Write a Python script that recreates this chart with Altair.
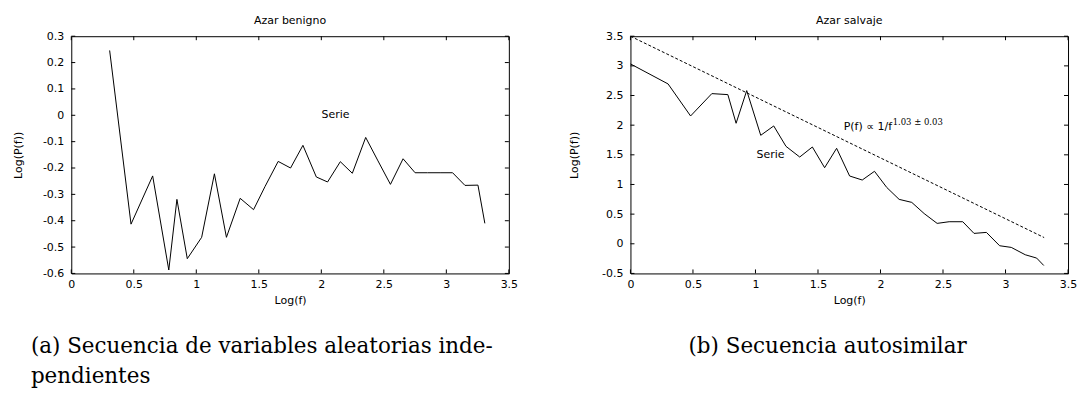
import altair as alt
import pandas as pd

# ---- tick values ----
x_ticks = [0, 0.5, 1, 1.5, 2, 2.5, 3, 3.5]
a_yticks = [-0.6, -0.5, -0.4, -0.3, -0.2, -0.1, 0, 0.1, 0.2, 0.3]
b_yticks = [-0.5, 0, 0.5, 1, 1.5, 2, 2.5, 3, 3.5]

# ---- panel (a): Azar benigno ----
a_x = [0.307, 0.478, 0.651, 0.780, 0.845, 0.928, 1.043, 1.145, 1.241, 1.351,
       1.458, 1.55, 1.655, 1.754, 1.853, 1.960, 2.050, 2.152, 2.248, 2.355,
       2.45, 2.553, 2.654, 2.750, 2.85, 2.95, 3.050, 3.149, 3.253, 3.308]
a_y = [0.246, -0.413, -0.230, -0.587, -0.319, -0.544, -0.463, -0.222, -0.463, -0.315,
       -0.358, -0.27, -0.175, -0.200, -0.114, -0.234, -0.253, -0.176, -0.220, -0.084,
       -0.17, -0.262, -0.165, -0.218, -0.218, -0.218, -0.218, -0.266, -0.265, -0.410]

# ---- panel (b): Azar salvaje ----
b_x = [0.0, 0.301, 0.481, 0.651, 0.779, 0.845, 0.930, 1.042, 1.146, 1.244,
       1.354, 1.455, 1.553, 1.649, 1.753, 1.854, 1.952, 2.050, 2.149, 2.250,
       2.349, 2.453, 2.549, 2.658, 2.748, 2.847, 2.953, 3.046, 3.158, 3.249, 3.306]
b_y = [3.033, 2.695, 2.155, 2.532, 2.515, 2.032, 2.583, 1.829, 1.987, 1.643,
       1.463, 1.632, 1.283, 1.610, 1.143, 1.075, 1.222, 0.950, 0.749, 0.698,
       0.510, 0.344, 0.372, 0.372, 0.175, 0.192, -0.033, -0.061, -0.185, -0.241, -0.366]
fit_x = [0.0, 3.309]
fit_y = [3.5, 0.105]

# ---- texts ----
a_title = "Azar benigno"
b_title = "Azar salvaje"
x_title = "Log(f)"
y_title = "Log(P(f))"
a_caption = "(a) Secuencia de variables aleatorias inde-\npendientes"
b_caption = "(b) Secuencia autosimilar"
serie_label = "Serie"
a_serie_pos = [2.113, 0.0]
b_serie_pos = [1.121, 1.503]
fit_label = "P(f) \u221d 1/f"
fit_exp = "1.03 \u00b1 0.03"
fit_label_pos = [1.706, 1.912]
fit_exp_pos = [2.097, 2.01]

W, H = 439, 238
SANS = "DejaVu Sans"
SERIF = "DejaVu Serif"
FS = 11
TL = 4
MINUS_FIX = "replace(format(datum.value, '~g'), '\u2212', '-')"


def make_panel(sx, sy, yticks, title, serie_pos, caption, cap_x, cap_align,
               ytitle_x, extra_layers=()):
    ydom = [min(yticks), max(yticks)]
    xs = alt.Scale(domain=[0, 3.5], nice=False, zero=False)
    ys = alt.Scale(domain=ydom, nice=False, zero=False)
    xax = alt.Axis(values=x_ticks, title=x_title, labelExpr=MINUS_FIX,
                   labelFlush=False, labelOverlap=False, labelPadding=5.5,
                   titleX=W / 2, titleY=30, titleBaseline="alphabetic")
    yax = alt.Axis(values=yticks, title=y_title, labelExpr=MINUS_FIX,
                   labelFlush=False, labelOverlap=False, labelPadding=7.5,
                   titleX=ytitle_x, titleY=H / 2, titleBaseline="middle",
                   titleAngle=-90)
    df = pd.DataFrame({"x": sx, "y": sy})
    line = alt.Chart(df).mark_line(color="black", strokeWidth=1).encode(
        x=alt.X("x:Q", scale=xs, axis=xax),
        y=alt.Y("y:Q", scale=ys, axis=yax),
    )
    xt = pd.DataFrame({"x": x_ticks})
    yt = pd.DataFrame({"y": yticks})
    xb = alt.Chart(xt).mark_rule(color="black", strokeWidth=1).encode(
        x=alt.X("x:Q", scale=xs, axis=xax), y=alt.value(H), y2=alt.value(H - TL))
    xtp = alt.Chart(xt).mark_rule(color="black", strokeWidth=1).encode(
        x=alt.X("x:Q", scale=xs, axis=xax), y=alt.value(0), y2=alt.value(TL))
    yl = alt.Chart(yt).mark_rule(color="black", strokeWidth=1).encode(
        y=alt.Y("y:Q", scale=ys, axis=yax), x=alt.value(0), x2=alt.value(TL))
    yr = alt.Chart(yt).mark_rule(color="black", strokeWidth=1).encode(
        y=alt.Y("y:Q", scale=ys, axis=yax), x=alt.value(W), x2=alt.value(W - TL))
    sdf = pd.DataFrame({"x": [serie_pos[0]], "y": [serie_pos[1]], "t": [serie_label]})
    serie = alt.Chart(sdf).mark_text(font=SANS, fontSize=FS, color="black",
                                     align="center", baseline="middle").encode(
        x=alt.X("x:Q", scale=xs, axis=xax), y=alt.Y("y:Q", scale=ys, axis=yax),
        text="t:N")
    tdf = pd.DataFrame({"t": [title]})
    ttl = alt.Chart(tdf).mark_text(font=SANS, fontSize=FS, color="black",
                                   align="center", baseline="alphabetic").encode(
        x=alt.value(W / 2), y=alt.value(-12), text="t:N")
    cdf = pd.DataFrame({"t": [caption]})
    cap = alt.Chart(cdf).mark_text(font=SERIF, fontSize=21.5, color="black",
                                   align=cap_align, baseline="alphabetic",
                                   lineBreak="\n", lineHeight=30).encode(
        x=alt.value(cap_x), y=alt.value(352 - 34.5), text="t:N")
    extras = [ch(xs, ys, xax, yax) for ch in extra_layers]
    layers = [line, *extras, xb, xtp, yl, yr, serie, ttl, cap]
    return alt.layer(*layers).properties(width=W, height=H)


def fit_layer(xs, ys, xax, yax):
    return alt.Chart(pd.DataFrame({"x": fit_x, "y": fit_y})).mark_line(
        color="black", strokeWidth=1, strokeDash=[3, 2]).encode(
        x=alt.X("x:Q", scale=xs, axis=xax), y=alt.Y("y:Q", scale=ys, axis=yax))


def fit_label_layer(xs, ys, xax, yax):
    return alt.Chart(pd.DataFrame({"x": [fit_label_pos[0]], "y": [fit_label_pos[1]],
                                   "t": [fit_label]})).mark_text(
        font=SANS, fontSize=FS, color="black", align="left",
        baseline="alphabetic").encode(
        x=alt.X("x:Q", scale=xs, axis=xax), y=alt.Y("y:Q", scale=ys, axis=yax),
        text="t:N")


def fit_exp_layer(xs, ys, xax, yax):
    return alt.Chart(pd.DataFrame({"x": [fit_exp_pos[0]], "y": [fit_exp_pos[1]],
                                   "t": [fit_exp]})).mark_text(
        font=SERIF, fontSize=8.5, color="black", align="left",
        baseline="alphabetic").encode(
        x=alt.X("x:Q", scale=xs, axis=xax), y=alt.Y("y:Q", scale=ys, axis=yax),
        text="t:N")


left = make_panel(a_x, a_y, a_yticks, a_title, a_serie_pos, a_caption,
                  -40.5, "left", -53)
right = make_panel(b_x, b_y, b_yticks, b_title, b_serie_pos, b_caption,
                   W / 2 - 21.7, "center", -56,
                   extra_layers=(fit_layer, fit_label_layer, fit_exp_layer))

chart = alt.hconcat(left, right, spacing=122, bounds="flush").properties(
    padding={"left": 11.5, "top": 13.7, "right": 0, "bottom": 0},
    background="white",
).configure_view(stroke="black", strokeWidth=1).configure_axis(
    domain=False, ticks=False, grid=False, labelFont=SANS, labelFontSize=FS,
    labelColor="black", titleFont=SANS, titleFontSize=FS, titleFontWeight="normal",
    titleColor="black", labelOverlap=False)

chart.save("out.html", embed_options={"renderer": "svg", "actions": False})
